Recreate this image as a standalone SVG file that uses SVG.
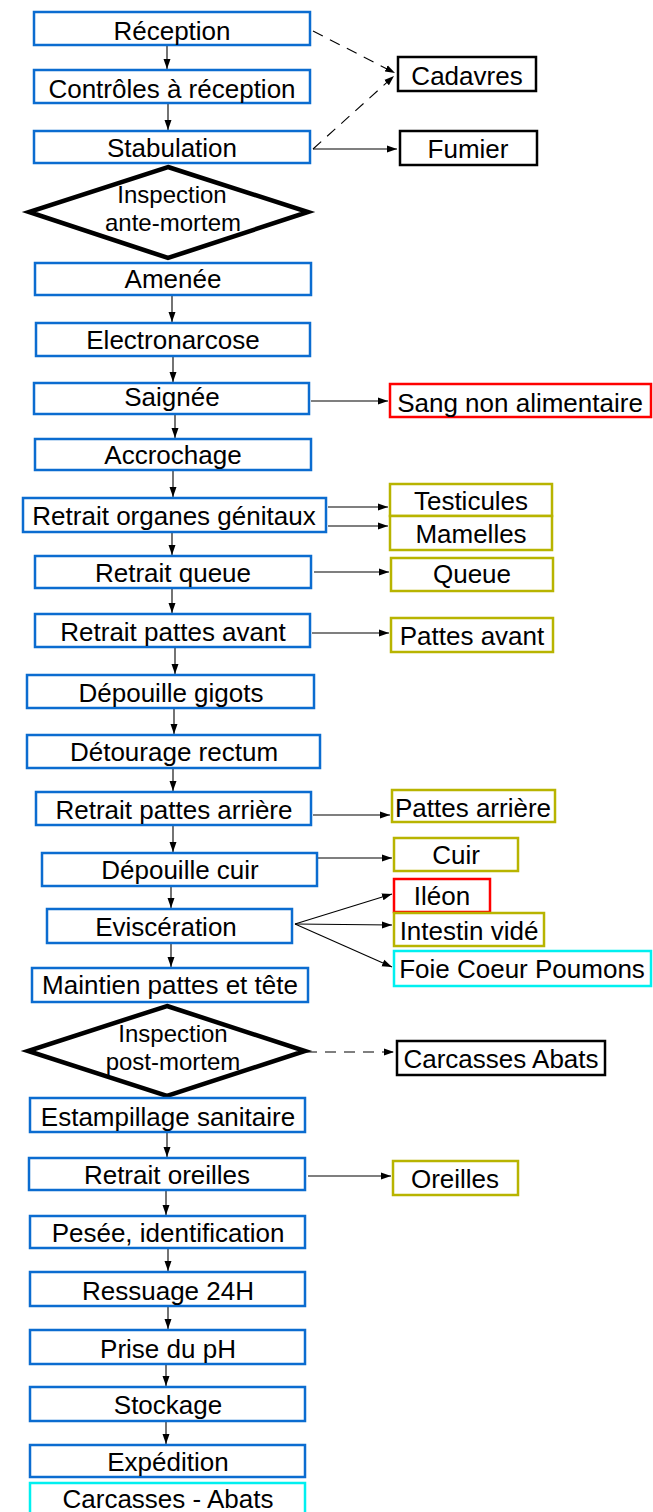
<svg xmlns="http://www.w3.org/2000/svg" width="653" height="1512" viewBox="0 0 653 1512">
<style>
text{font-family:"Liberation Sans",Arial,sans-serif;font-size:26px;fill:#000;text-anchor:middle}
text.dt{font-size:24px}
.b{fill:#fff;stroke:#0b6cd0;stroke-width:2.5}
.k{fill:#fff;stroke:#000;stroke-width:2.5}
.r{fill:#fff;stroke:#ff0000;stroke-width:2.5}
.o{fill:#fff;stroke:#b8b400;stroke-width:2.5}
.c{fill:#fff;stroke:#00f0f0;stroke-width:2.5}
.d{fill:#fff;stroke:#000;stroke-width:4.5;stroke-linejoin:miter}
.l{fill:none;stroke:#000;stroke-width:1.1;marker-end:url(#a)}
.ds{stroke-dasharray:11,8}
</style>
<defs>
<marker id="a" markerUnits="userSpaceOnUse" markerWidth="11" markerHeight="8" refX="10" refY="4" orient="auto"><path d="M0,0.5 L10,4 L0,7.5 z" fill="#000"/></marker>
</defs>
<rect width="653" height="1512" fill="#fff"/>
<g id="connectors">
<path class="l" d="M167,46 V69"/>
<path class="l" d="M168,104 V130"/>
<path class="l" d="M172,296 V322"/>
<path class="l" d="M173,357 V382"/>
<path class="l" d="M175,415 V438"/>
<path class="l" d="M173,471 V497"/>
<path class="l" d="M172,533 V555"/>
<path class="l" d="M172,589 V613"/>
<path class="l" d="M175,648 V674"/>
<path class="l" d="M174,709 V734"/>
<path class="l" d="M173,769 V791"/>
<path class="l" d="M173,826 V852"/>
<path class="l" d="M171,887 V908"/>
<path class="l" d="M171,944 V967"/>
<path class="l" d="M167,1133 V1157"/>
<path class="l" d="M166,1191 V1215"/>
<path class="l" d="M168,1249 V1271"/>
<path class="l" d="M168,1307 V1329"/>
<path class="l" d="M166,1365 V1386"/>
<path class="l" d="M166,1422 V1444"/>
<path class="l ds" d="M313,31 L395,73"/>
<path class="l ds" d="M313,149 L394,76"/>
<path class="l" d="M313,149 H397"/>
<path class="l" d="M311,401 H388"/>
<path class="l" d="M328,507 H388"/>
<path class="l" d="M328,526 H388"/>
<path class="l" d="M314,572 H389"/>
<path class="l" d="M312,633 H389"/>
<path class="l" d="M313,815 H390"/>
<path class="l" d="M318,858 H392"/>
<path class="l" d="M295,924 L392,894"/>
<path class="l" d="M295,924 L392,925"/>
<path class="l" d="M295,924 L392,967"/>
<path class="l ds" d="M306,1052 H394"/>
<path class="l" d="M308,1176 H391"/>
</g>
<g id="n-reception"><rect class="b" x="34" y="12" width="276" height="33"/><text x="172" y="40">Réception</text></g>
<g id="n-controles"><rect class="b" x="34" y="70" width="276" height="33"/><text x="172" y="98">Contrôles à réception</text></g>
<g id="n-stabulation"><rect class="b" x="34" y="131" width="276" height="32"/><text x="172" y="157">Stabulation</text></g>
<g id="n-antemortem"><polygon class="d" points="168,167 308,212 168,258 29,212"/><text class="dt" x="172" y="203">Inspection</text><text class="dt" x="173" y="231">ante-mortem</text></g>
<g id="n-amenee"><rect class="b" x="35" y="263" width="276" height="32"/><text x="173" y="288">Amenée</text></g>
<g id="n-electronarcose"><rect class="b" x="36" y="323" width="274" height="33"/><text x="173" y="349">Electronarcose</text></g>
<g id="n-saignee"><rect class="b" x="34" y="383" width="275" height="31"/><text x="172" y="406">Saignée</text></g>
<g id="n-accrochage"><rect class="b" x="35" y="439" width="276" height="31"/><text x="173" y="464">Accrochage</text></g>
<g id="n-genitaux"><rect class="b" x="23" y="498" width="303" height="34"/><text x="174" y="525">Retrait organes génitaux</text></g>
<g id="n-queue"><rect class="b" x="35" y="556" width="276" height="32"/><text x="173" y="582">Retrait queue</text></g>
<g id="n-pattesavant"><rect class="b" x="35" y="614" width="275" height="33"/><text x="173" y="641">Retrait pattes avant</text></g>
<g id="n-gigots"><rect class="b" x="27" y="675" width="287" height="33"/><text x="171" y="702">Dépouille gigots</text></g>
<g id="n-rectum"><rect class="b" x="27" y="735" width="293" height="33"/><text x="174" y="761">Détourage rectum</text></g>
<g id="n-pattesarriere"><rect class="b" x="36" y="792" width="275" height="33"/><text x="174" y="819">Retrait pattes arrière</text></g>
<g id="n-cuir"><rect class="b" x="42" y="853" width="275" height="33"/><text x="180" y="879">Dépouille cuir</text></g>
<g id="n-evisceration"><rect class="b" x="47" y="909" width="245" height="34"/><text x="166" y="936">Eviscération</text></g>
<g id="n-maintien"><rect class="b" x="32" y="968" width="276" height="34"/><text x="170" y="994">Maintien pattes et tête</text></g>
<g id="n-postmortem"><polygon class="d" points="167,1006 305,1051 167,1096 28,1051"/><text class="dt" x="173" y="1042">Inspection</text><text class="dt" x="173" y="1070">post-mortem</text></g>
<g id="n-estampillage"><rect class="b" x="30" y="1098" width="275" height="34"/><text x="168" y="1126">Estampillage sanitaire</text></g>
<g id="n-oreilles"><rect class="b" x="29" y="1158" width="276" height="32"/><text x="167" y="1184">Retrait oreilles</text></g>
<g id="n-pesee"><rect class="b" x="30" y="1216" width="275" height="32"/><text x="168" y="1242">Pesée, identification</text></g>
<g id="n-ressuage"><rect class="b" x="30" y="1272" width="275" height="34"/><text x="168" y="1300">Ressuage 24H</text></g>
<g id="n-ph"><rect class="b" x="30" y="1330" width="275" height="34"/><text x="168" y="1358">Prise du pH</text></g>
<g id="n-stockage"><rect class="b" x="30" y="1387" width="275" height="34"/><text x="168" y="1414">Stockage</text></g>
<g id="n-expedition"><rect class="b" x="30" y="1445" width="275" height="32"/><text x="168" y="1471">Expédition</text></g>
<g id="n-carcasses-abats"><rect class="c" x="30" y="1483" width="275" height="34"/><text x="168" y="1508">Carcasses - Abats</text></g>
<g id="n-cadavres"><rect class="k" x="398" y="57" width="138" height="34"/><text x="467" y="85">Cadavres</text></g>
<g id="n-fumier"><rect class="k" x="400" y="131" width="137" height="34"/><text x="468" y="158">Fumier</text></g>
<g id="n-sang"><rect class="r" x="390" y="384" width="261" height="33"/><text x="520" y="412">Sang non alimentaire</text></g>
<g id="n-testicules"><rect class="o" x="390" y="484" width="162" height="32"/><text x="471" y="510">Testicules</text></g>
<g id="n-mamelles"><rect class="o" x="390" y="516" width="162" height="34"/><text x="471" y="543">Mamelles</text></g>
<g id="n-queue-out"><rect class="o" x="391" y="558" width="162" height="33"/><text x="472" y="583">Queue</text></g>
<g id="n-pattesavant-out"><rect class="o" x="391" y="618" width="162" height="34"/><text x="472" y="645">Pattes avant</text></g>
<g id="n-pattesarriere-out"><rect class="o" x="392" y="790" width="163" height="32"/><text x="473" y="817">Pattes arrière</text></g>
<g id="n-cuir-out"><rect class="o" x="394" y="838" width="124" height="33"/><text x="456" y="864">Cuir</text></g>
<g id="n-ileon"><rect class="r" x="394" y="879" width="96" height="33"/><text x="442" y="905">Iléon</text></g>
<g id="n-intestin"><rect class="o" x="394" y="913" width="150" height="33"/><text x="469" y="940">Intestin vidé</text></g>
<g id="n-foie"><rect class="c" x="394" y="951" width="257" height="35"/><text x="522" y="978">Foie Coeur Poumons</text></g>
<g id="n-carcasses-abats-pm"><rect class="k" x="397" y="1041" width="208" height="34"/><text x="501" y="1068">Carcasses Abats</text></g>
<g id="n-oreilles-out"><rect class="o" x="393" y="1161" width="125" height="34"/><text x="455" y="1188">Oreilles</text></g>
</svg>
